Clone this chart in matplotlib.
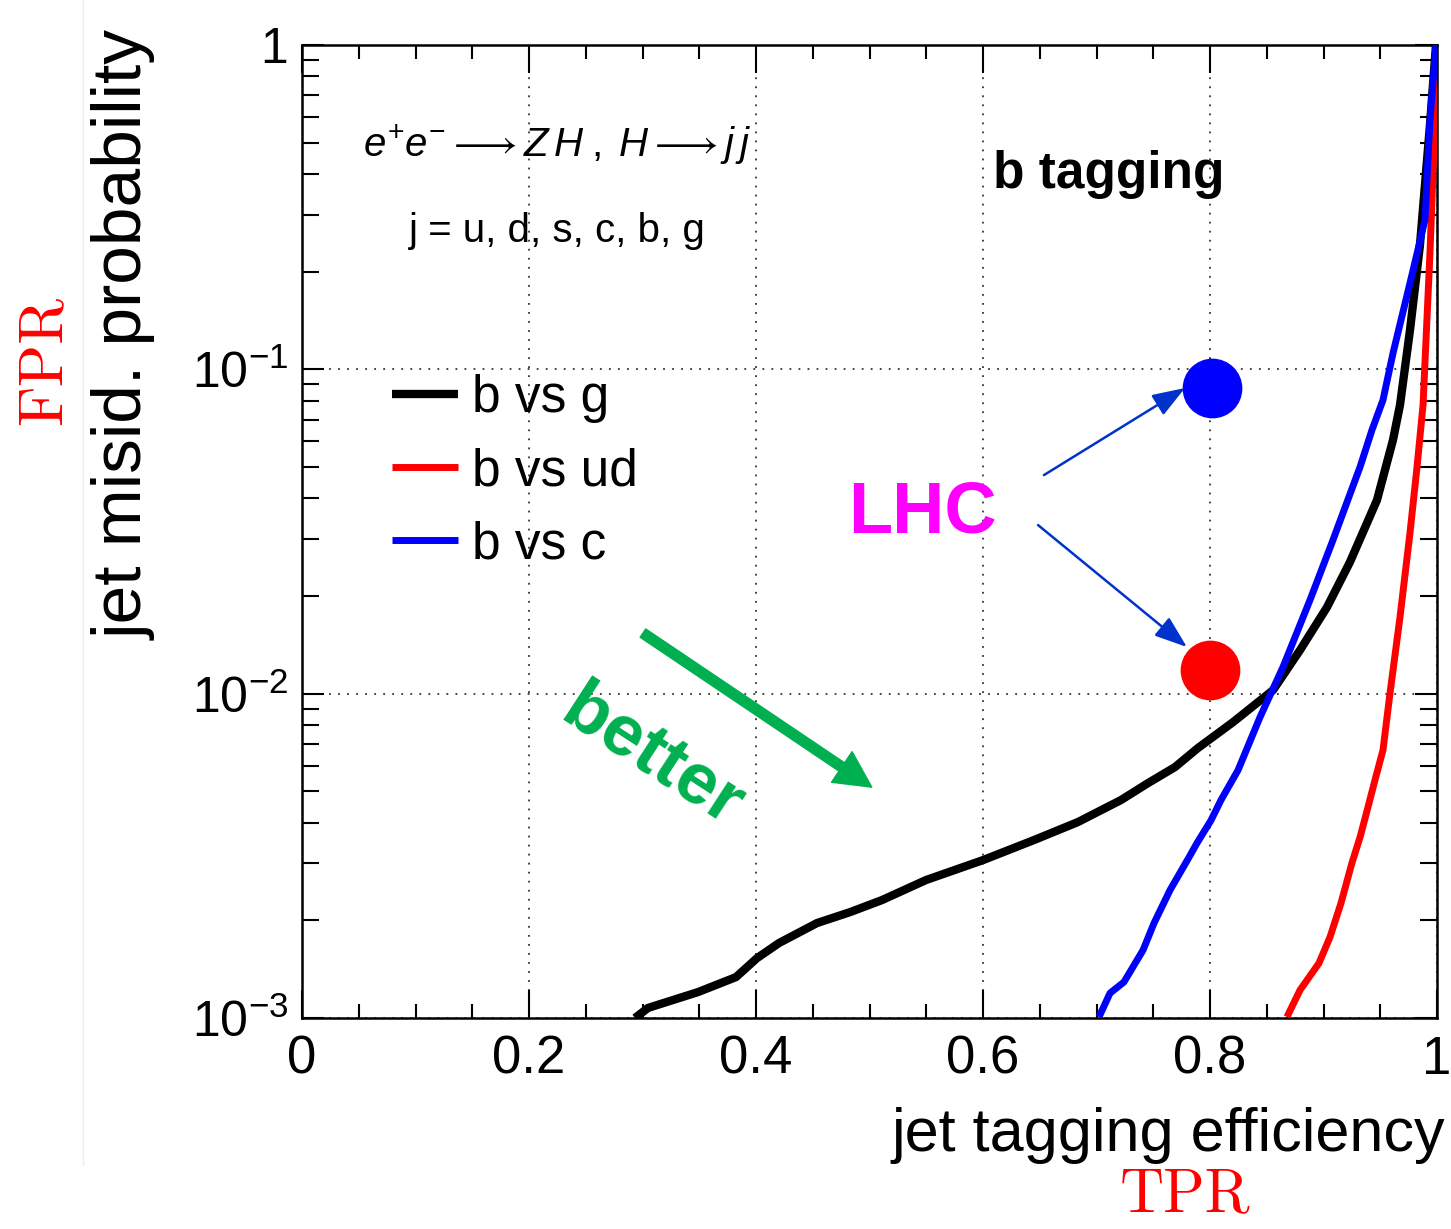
import matplotlib
matplotlib.use('Agg')
import matplotlib.pyplot as plt
from matplotlib.lines import Line2D
from matplotlib.ticker import FixedLocator, FixedFormatter, MultipleLocator, LogLocator, NullFormatter

SANS = ['Liberation Sans', 'DejaVu Sans']
plt.rcParams['font.family'] = SANS
plt.rcParams['mathtext.fontset'] = 'custom'
plt.rcParams['mathtext.rm'] = 'Liberation Sans'
plt.rcParams['mathtext.it'] = 'Liberation Sans:italic'
plt.rcParams['mathtext.bf'] = 'Liberation Sans:bold'
plt.rcParams['mathtext.fallback'] = 'stixsans'

# ---------------- data ----------------
eff_b_vs_g = [0.2934, 0.3048, 0.3489, 0.3824, 0.4009, 0.4203, 0.4537, 0.4828, 0.5110,
              0.5498, 0.6000, 0.6449, 0.6837, 0.7216, 0.7454, 0.7692, 0.7894, 0.8203,
              0.8555, 0.8793, 0.9031, 0.9233, 0.9471, 0.9612, 0.9674, 0.9762, 0.9850,
              0.9938, 0.9991]
mis_b_vs_g = [1.00e-3, 1.074e-3, 1.202e-3, 1.337e-3, 1.530e-3, 1.703e-3, 1.962e-3, 2.120e-3,
              2.310e-3, 2.663e-3, 3.068e-3, 3.537e-3, 4.02e-3, 4.70e-3, 5.30e-3, 5.94e-3,
              6.80e-3, 8.17e-3, 1.025e-2, 1.362e-2, 1.848e-2, 2.545e-2, 3.95e-2, 6.05e-2,
              7.76e-2, 0.132, 0.242, 0.567, 1.0]

eff_b_vs_ud = [0.8678, 0.8793, 0.8960, 0.9057, 0.9154, 0.9251, 0.9322, 0.9392, 0.9454,
               0.9524, 0.9586, 0.9674, 0.9762, 0.9824, 0.9877, 0.9938, 0.9982, 1.0]
mis_b_vs_ud = [1.007e-3, 1.219e-3, 1.476e-3, 1.775e-3, 2.26e-3, 3.01e-3, 3.61e-3, 4.47e-3,
               5.42e-3, 6.70e-3, 1.004e-2, 1.722e-2, 3.13e-2, 5.00e-2, 7.76e-2, 0.228,
               0.587, 1.0]

eff_b_vs_c = [0.7022, 0.7119, 0.7242, 0.7410, 0.7507, 0.7648, 0.7815, 0.7885, 0.8009,
              0.8097, 0.8247, 0.8441, 0.8643, 0.8881, 0.9084, 0.9322, 0.9427, 0.9524,
              0.9612, 0.9789, 0.9894, 0.9938, 0.9991]
mis_b_vs_c = [1.007e-3, 1.193e-3, 1.291e-3, 1.619e-3, 1.962e-3, 2.48e-3, 3.13e-3, 3.46e-3,
              4.07e-3, 4.70e-3, 5.81e-3, 8.47e-3, 1.208e-2, 1.944e-2, 2.98e-2, 5.00e-2,
              6.50e-2, 8.04e-2, 0.112, 0.202, 0.289, 0.587, 1.0]

series_labels = ['b vs g', 'b vs ud', 'b vs c']
series_colors = ['#000000', '#ff0000', '#0000ff']
series_widths = [6, 5, 5]

lhc_eff = [0.802, 0.800]
lhc_mis = [0.0875, 0.0118]
lhc_colors = ['#0000ff', '#ff0000']

x_ticks = [0, 0.2, 0.4, 0.6, 0.8, 1.0]
x_tick_labels = ['0', '0.2', '0.4', '0.6', '0.8', '1']
y_ticks = [1e-3, 1e-2, 1e-1, 1.0]
y_tick_labels = [r'$10^{-3}$', r'$10^{-2}$', r'$10^{-1}$', '1']

# ---------------- figure ----------------
fig = plt.figure(figsize=(14.51, 12.29), dpi=100)
fig.patch.set_facecolor('white')
ax = fig.add_axes([302 / 1451, 211 / 1229, 1135 / 1451, 973 / 1229])
ax.set_yscale('log')
ax.set_xlim(0, 1)
ax.set_ylim(1e-3, 1)

for xs, ys, lab, col, lw in zip([eff_b_vs_g, eff_b_vs_ud, eff_b_vs_c],
                                [mis_b_vs_g, mis_b_vs_ud, mis_b_vs_c],
                                series_labels, series_colors, series_widths):
    ax.plot(xs, ys, color=col, lw=lw, label=lab, solid_capstyle='butt',
            solid_joinstyle='round', zorder=4)

for xe, ym, c in zip(lhc_eff, lhc_mis, lhc_colors):
    ax.plot([xe], [ym], 'o', ms=42, color=c, mec=c, zorder=5, clip_on=False)

# ticks / grid
ax.xaxis.set_major_locator(FixedLocator(x_ticks))
ax.xaxis.set_major_formatter(FixedFormatter(x_tick_labels))
ax.xaxis.set_minor_locator(MultipleLocator(0.05))
ax.yaxis.set_major_locator(FixedLocator(y_ticks))
ax.yaxis.set_major_formatter(FixedFormatter(y_tick_labels))
ax.yaxis.set_minor_locator(LogLocator(base=10, subs=[2, 3, 4, 5, 6, 7, 8, 9], numticks=20))
ax.yaxis.set_minor_formatter(NullFormatter())
ax.tick_params(which='both', direction='in', top=True, right=True, width=1.5, color='black')
ax.tick_params(axis='x', which='major', length=20, labelsize=38, pad=12)
ax.tick_params(axis='x', which='minor', length=10)
ax.tick_params(axis='y', which='major', length=16, labelsize=36, pad=10)
ax.tick_params(axis='y', which='minor', length=12)
for sp in ax.spines.values():
    sp.set_linewidth(1.8)
ax.grid(True, which='major', ls=(0, (1, 4)), color='#333333', lw=1.3, zorder=1)

# legend
ax.legend(loc='upper left', bbox_to_anchor=(0.0793, 0.662), frameon=False, fontsize=37,
          handlelength=1.28, handletextpad=0.27, labelspacing=0.47, borderpad=0,
          borderaxespad=0)

# annotations
ax.text(0.2247, 0.885, r'$e^{+}e^{-}\longrightarrow Z\,H\;,\;H\longrightarrow j\,j$',
        transform=ax.transAxes, ha='center', va='baseline', fontsize=29)
ax.text(0.225, 0.7975, 'j = u, d, s, c, b, g', transform=ax.transAxes,
        ha='center', va='baseline', fontsize=29)
ax.text(0.6088, 0.853, 'b tagging', transform=ax.transAxes, ha='left', va='baseline',
        fontsize=37, fontweight='bold')
ax.text(0.5467, 0.4985, 'LHC', transform=ax.transAxes, ha='center', va='baseline',
        fontsize=52, fontweight='bold', color='#ff00ff')
ax.text(0.3084, 0.2682, 'better', transform=ax.transAxes, ha='center', va='center',
        rotation=-33, rotation_mode='anchor', fontsize=52, fontweight='bold',
        color='#00b050')

# green arrow
ax.annotate('', xy=(0.502, 0.00515), xytext=(0.3004, 0.01537),
            arrowprops=dict(width=7.2, headwidth=26.5, headlength=26, facecolor='#00b050',
                            edgecolor='#00b050', shrink=0), zorder=6)
# blue arrows
for tail, tip in [((0.6537, 0.0472), (0.778, 0.0876)), ((0.6485, 0.0331), (0.7797, 0.01392))]:
    ax.annotate('', xy=tip, xytext=tail,
                arrowprops=dict(arrowstyle='-|>,head_length=0.5,head_width=0.18',
                                mutation_scale=40, color='#0033cc', lw=1.8,
                                shrinkA=0, shrinkB=0), zorder=6)

# axis titles
fig.text(125 / 1451, 1 - 30 / 1229, 'jet misid. probability', rotation=90, ha='center',
         va='top', fontsize=50)
fig.text(1445 / 1451, (1229 - 1151) / 1229, 'jet tagging efficiency', ha='right',
         va='baseline', fontsize=44)
fig.text(45 / 1451, (1229 - 360) / 1229, 'FPR', rotation=90, ha='center',
         va='center', fontsize=45, color='#ff0000', family='cmr10')
fig.text(1185 / 1451, 18 / 1229, 'TPR', ha='center', va='baseline',
         fontsize=44, color='#ff0000', family='cmr10')

fig.add_artist(Line2D([83 / 1451, 83 / 1451], [1.0, (1229 - 1165) / 1229],
                      transform=fig.transFigure, color='#ededed', lw=1))

fig.savefig('out.png', dpi=100, facecolor='white')
